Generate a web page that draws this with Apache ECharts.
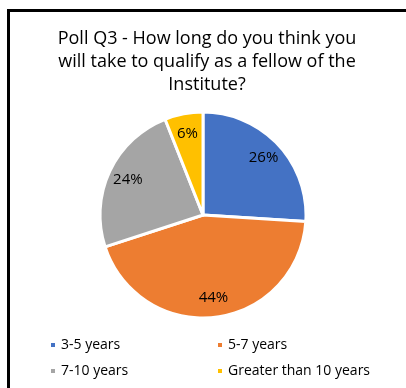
<!DOCTYPE html>
<html>
<head>
<meta charset="utf-8">
<script src="https://cdn.jsdelivr.net/npm/echarts@6/dist/echarts.min.js"></script>
<style>
  html, body { margin: 0; padding: 0; background: #fff; }
  #chart { width: 406px; height: 388px; }
</style>
</head>
<body>
<div id="chart"></div>
<script>
// poll answers, in percent
const categories = ['3-5 years', '5-7 years', '7-10 years', 'Greater than 10 years'];
const shares = [26, 44, 24, 6];
const colors = ['#4472C4', '#ED7D31', '#A5A5A5', '#FFC000'];

const font = '"Open Sans", "Liberation Sans", sans-serif';
const chart = echarts.init(document.getElementById('chart'));

const pieData = categories.map((name, i) => ({
  name: name,
  value: shares[i],
  itemStyle: { color: colors[i] },
}));

const legendBase = {
  orient: 'vertical',
  top: 333,
  itemWidth: 6,
  itemHeight: 6,
  itemGap: 12,
  icon: 'rect',
  textStyle: { fontFamily: font, fontSize: 14, color: '#000' },
  selectedMode: false,
};

chart.setOption({
  backgroundColor: '#fff',
  animation: false,
  title: {
    text: 'Poll Q3 - How long do you think you\nwill take to qualify as a fellow of the\nInstitute?',
    left: 202,
    textAlign: 'center',
    top: 22,
    textStyle: {
      fontFamily: font,
      fontSize: 18,
      fontWeight: 'normal',
      color: '#000',
      lineHeight: 23,
    },
  },
  // two columns: left and right legend blocks
  legend: [
    Object.assign({ data: [categories[0], categories[2]], left: 44 }, legendBase),
    Object.assign({ data: [categories[1], categories[3]], left: 211 }, legendBase),
  ],
  graphic: [
    {
      type: 'rect',
      shape: { x: 8.5, y: 10.5, width: 420, height: 400 },
      style: { fill: 'none', stroke: '#000', lineWidth: 3 },
    },
  ],
  series: [
    {
      type: 'pie',
      center: [203, 215],
      radius: [0, 103],
      startAngle: 90,
      clockwise: true,
      data: pieData,
      label: { show: false },
      labelLine: { show: false },
      itemStyle: { borderColor: '#fff', borderWidth: 3 },
      emphasis: { disabled: true },
      silent: true,
    },
    {
      // transparent ring so the labels sit near the outer part of each slice
      type: 'pie',
      center: [203, 215],
      radius: [57, 103],
      startAngle: 90,
      clockwise: true,
      data: categories.map((name, i) => ({ name: name, value: shares[i] })),
      itemStyle: { color: 'rgba(0,0,0,0)' },
      label: {
        show: true,
        position: 'inside',
        formatter: '{c}%',
        fontFamily: font,
        fontSize: 15,
        color: '#000',
      },
      labelLine: { show: false },
      emphasis: { disabled: true },
      silent: true,
    },
  ],
});
</script>
</body>
</html>
